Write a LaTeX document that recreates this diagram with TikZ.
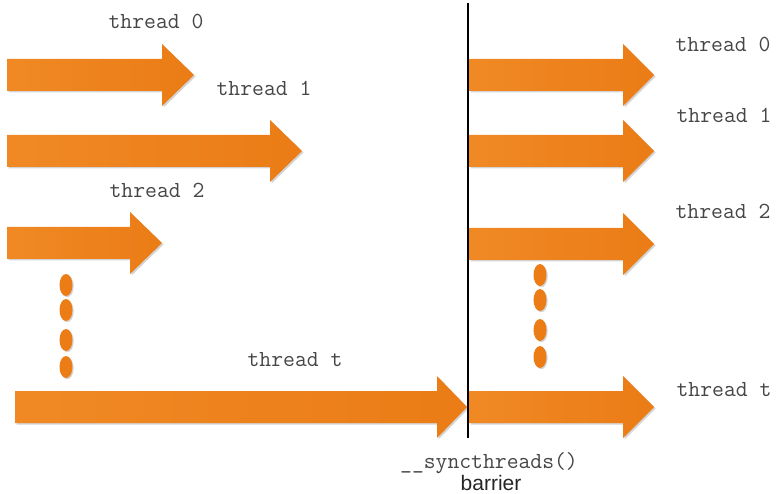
\documentclass[tikz,border=0pt]{standalone}
\usepackage{fontspec}
\setmainfont{Liberation Sans}
\usetikzlibrary{shadows}
\definecolor{orangeL}{RGB}{240,137,36}
\definecolor{orangeR}{RGB}{235,124,22}
\definecolor{labelgray}{RGB}{70,70,70}

\tikzset{
  arrowfill/.style={left color=orangeL, right color=orangeR,
    drop shadow={shadow xshift=1.5pt, shadow yshift=-1.5pt, opacity=0.35}},
  dotfill/.style={fill=orangeR, draw=none,
    drop shadow={shadow xshift=1.2pt, shadow yshift=-1.2pt, opacity=0.35}},
  threadlabel/.style={font=\ttfamily\fontsize{23}{26}\selectfont, text=labelgray, inner sep=0pt},
  barrierline/.style={line width=2pt, black},
}

% block arrow: left end, head base, tip, centre line
\newcommand\threadarrow[4]{%
  \path[arrowfill] (#1,#4-16) -- (#2,#4-16) -- (#2,#4-31) -- (#3,#4)
    -- (#2,#4+31) -- (#2,#4+16) -- (#1,#4+16) -- cycle;}

\begin{document}
\begin{tikzpicture}[x=1pt,y=-1pt]
\useasboundingbox (0,0) rectangle (776,494);

% threads before the barrier
\threadarrow{7}{162}{194}{75}
\threadarrow{7}{270}{302}{151}
\threadarrow{7}{130}{162}{243}
\threadarrow{15}{437}{467}{407}

% threads after the barrier
\threadarrow{469}{623}{654}{75}
\threadarrow{469}{623}{654}{151}
\threadarrow{469}{623}{654}{244}
\threadarrow{469}{623}{654}{407}

% barrier
\coordinate (btop) at (468,3);
\coordinate (bbot) at (468,438);
\draw[barrierline] (btop) -- (bbot);

% ellipsis dots
\foreach \y in {285,310,340,367}
  \path[dotfill] (66,\y) ellipse [x radius=6.5, y radius=11];
\foreach \y in {275,300,330,357}
  \path[dotfill] (540,\y) ellipse [x radius=6.5, y radius=11];

% labels
\node[threadlabel] (l0) at (156,21) {thread 0};
\node[threadlabel] (l1) at (264,88) {thread 1};
\node[threadlabel] (l2) at (157,190) {thread 2};
\node[threadlabel] (lt) at (295,360) {thread t};
\node[threadlabel] (r0) at (723,44) {thread 0};
\node[threadlabel] (r1) at (724,115) {thread 1};
\node[threadlabel] (r2) at (723,211) {thread 2};
\node[threadlabel] (rt) at (724,390) {thread t};

\node[threadlabel] (sync) at (489,463) {\_\_syncthreads()};
\node[font=\fontsize{21}{24}\selectfont, inner sep=0pt, text=black!85] (bar) at (491,483) {barrier};
\end{tikzpicture}
\end{document}
